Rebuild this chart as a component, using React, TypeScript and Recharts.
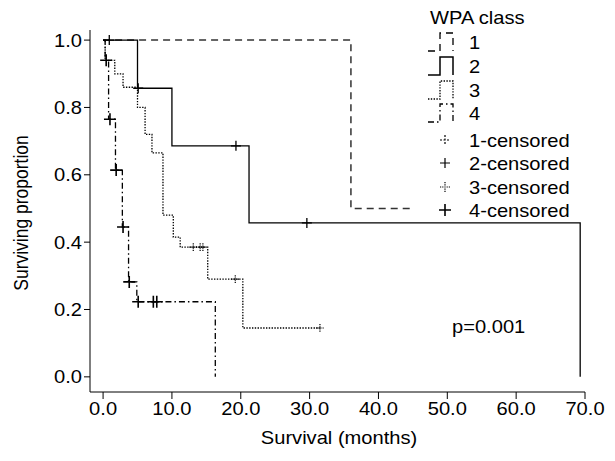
import { ComposedChart, Line, Scatter, XAxis, YAxis } from "recharts";

// step points (time in months, surviving proportion)
const class1Time = [0, 36, 45];
const class1Surv = [1, 0.5, 0.5];
const class2Time = [0, 5, 10, 21.2, 69.3];
const class2Surv = [1, 0.857, 0.686, 0.457, 0];
const class3Time = [0, 0.3, 1.7, 2.9, 5.0, 6.1, 7.1, 8.7, 10.2, 11.2, 15.2, 20.3, 31.5];
const class3Surv = [1, 0.94, 0.9, 0.86, 0.8, 0.72, 0.665, 0.48, 0.415, 0.385, 0.29, 0.145, 0.145];
const class4Time = [0, 0.3, 0.8, 1.8, 2.8, 3.7, 4.9, 16.3];
const class4Surv = [1, 0.94, 0.765, 0.614, 0.445, 0.282, 0.223, 0];

// censored cases
const cens2Time = [0.9, 5.1, 19.3, 29.6];
const cens2Surv = [1, 0.857, 0.686, 0.457];
const cens3Time = [13.1, 14.1, 14.5, 19.2, 31.5];
const cens3Surv = [0.385, 0.385, 0.385, 0.29, 0.145];
const cens4Time = [0.45, 1.0, 1.9, 2.9, 3.8, 5.1, 7.3, 7.8];
const cens4Surv = [0.94, 0.765, 0.614, 0.445, 0.282, 0.223, 0.223, 0.223];

const xTicks = [0, 10, 20, 30, 40, 50, 60, 70];
const yTicks = [0, 0.2, 0.4, 0.6, 0.8, 1.0];
const legendGroups = ["1", "2", "3", "4"];

const zip = (t: number[], s: number[]) => t.map((v, i) => ({ t: v, s: s[i] }));

const FONT = '"Liberation Sans", Arial, sans-serif';
const FS = 17.5;
const SX = 1.15;

const dashes = ["7 5", undefined, "1.4 1.4", "6 3 1.5 3"];

const plus = (size: number, width: number, dash?: string) => (p: any) => (
  <path
    d={`M${p.cx - size},${p.cy}H${p.cx + size}M${p.cx},${p.cy - size}V${p.cy + size}`}
    stroke="#000"
    strokeWidth={width}
    strokeDasharray={dash}
    fill="none"
  />
);

const XTick = (p: any) => (
  <text transform={`translate(${p.x},${p.y + 14}) scale(${SX},1)`} textAnchor="middle" fontFamily={FONT} fontSize={FS} fill="#000">
    {Number(p.payload.value).toFixed(1)}
  </text>
);

const YTick = (p: any) => (
  <text transform={`translate(${p.x},${p.y + 6.5}) scale(${SX},1)`} textAnchor="end" fontFamily={FONT} fontSize={FS} fill="#000">
    {Number(p.payload.value).toFixed(1)}
  </text>
);

export default function App() {
  const rowY = [42, 66, 90, 113];
  const censY = [140, 163, 187, 210];
  const censNames = ["1-censored", "2-censored", "3-censored", "4-censored"];
  return (
    <div style={{ position: "absolute", left: 0, top: 0, width: 615, height: 461, background: "#fff" }}>
      <ComposedChart width={615} height={461} margin={{ top: 30, right: 30, bottom: 0, left: 0 }}>
        <XAxis
          type="number"
          dataKey="t"
          domain={[-1.9, 70]}
          ticks={xTicks}
          interval={0}
          height={69}
          tickSize={7}
          tickMargin={2}
          axisLine={{ stroke: "#000" }}
          tickLine={{ stroke: "#000" }}
          tick={XTick}
          allowDataOverflow
        />
        <YAxis
          type="number"
          dataKey="s"
          domain={[-0.045, 1.03]}
          ticks={yTicks}
          interval={0}
          width={90}
          tickSize={6}
          tickMargin={2}
          axisLine={{ stroke: "#000" }}
          tickLine={{ stroke: "#000" }}
          tick={YTick}
          allowDataOverflow
        />
        <Line data={zip(class1Time, class1Surv)} dataKey="s" type="stepAfter" stroke="#333" strokeWidth={1.5} strokeDasharray={dashes[0]} dot={false} isAnimationActive={false} />
        <Line data={zip(class2Time, class2Surv)} dataKey="s" type="stepAfter" stroke="#000" strokeWidth={1.3} dot={false} isAnimationActive={false} />
        <Line data={zip(class3Time, class3Surv)} dataKey="s" type="stepAfter" stroke="#000" strokeWidth={1.3} strokeDasharray={dashes[2]} dot={false} isAnimationActive={false} />
        <Line data={zip(class4Time, class4Surv)} dataKey="s" type="stepAfter" stroke="#000" strokeWidth={1.3} strokeDasharray={dashes[3]} dot={false} isAnimationActive={false} />
        <Scatter data={zip(cens2Time, cens2Surv)} shape={plus(5, 1.3)} isAnimationActive={false} />
        <Scatter data={zip(cens3Time, cens3Surv)} shape={plus(4, 1.2, "1.2 1")} isAnimationActive={false} />
        <Scatter data={zip(cens4Time, cens4Surv)} shape={plus(6, 1.6)} isAnimationActive={false} />
      </ComposedChart>
      <svg width={615} height={461} style={{ position: "absolute", left: 0, top: 0, pointerEvents: "none" }}>
        <g fontFamily={FONT} fontSize={FS} fill="#000">
          <text transform={`translate(430,24) scale(${SX},1)`}>WPA class</text>
          {legendGroups.map((g, i) => (
            <g key={g}>
              <path
                d={`M428,${rowY[i] + 9}H440V${rowY[i] - 9}H453V${rowY[i] + 9}`}
                stroke="#000"
                strokeWidth={i === 1 ? 1.5 : 1.3}
                strokeDasharray={dashes[i]}
                fill="none"
              />
              <text transform={`translate(469,${rowY[i] + 6.5}) scale(${SX},1)`}>{g}</text>
            </g>
          ))}
          {censNames.map((n, i) => (
            <g key={n}>
              {plus(i === 3 ? 6 : 5, i === 3 ? 1.6 : 1.2, i === 0 ? "2 1.5" : i === 2 ? "1.2 1" : undefined)({ cx: 445, cy: censY[i] })}
              <text transform={`translate(469,${censY[i] + 6.5}) scale(${SX},1)`}>{n}</text>
            </g>
          ))}
          <text transform={`translate(452,333) scale(${SX},1)`}>p=0.001</text>
          <text transform={`translate(339,444) scale(${SX},1)`} textAnchor="middle">Survival (months)</text>
          <text transform={`translate(28,213) rotate(-90) scale(1,${SX})`} textAnchor="middle">Surviving proportion</text>
        </g>
      </svg>
    </div>
  );
}
